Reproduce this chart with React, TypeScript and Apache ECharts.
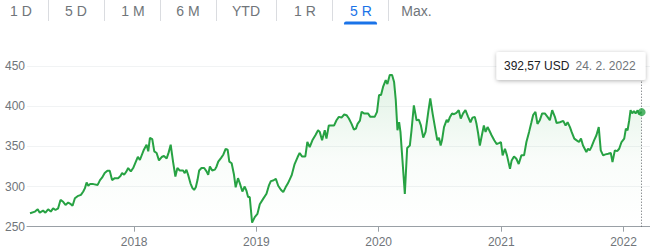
import React, { useEffect, useRef } from "react";
import * as echarts from "echarts";

const tabLabels = ["1 D", "5 D", "1 M", "6 M", "YTD", "1 R", "5 R", "Max."];
const activeTab = "5 R";
const yTicks = [250, 300, 350, 400, 450];
const yearTicks = ["2018-01-01", "2019-01-01", "2020-01-01", "2021-01-01", "2022-01-01"];
const xRange = ["2017-02-15", "2022-03-21"];

const dates2017 = ["2017-02-24","2017-03-11","2017-03-19","2017-03-25","2017-04-04","2017-04-11","2017-04-19","2017-04-27","2017-05-04","2017-05-11","2017-05-19","2017-05-26","2017-06-03","2017-06-10","2017-06-18","2017-06-26","2017-07-01","2017-07-08","2017-07-16","2017-07-26","2017-08-02","2017-08-07","2017-08-12","2017-08-17","2017-08-22","2017-09-01","2017-09-14","2017-09-21","2017-09-27","2017-10-05","2017-10-13","2017-10-20","2017-10-27","2017-11-04","2017-11-14","2017-11-21","2017-11-26","2017-12-02","2017-12-09","2017-12-14","2017-12-22","2017-12-29"];
const values2017 = [266.7,268.8,271.7,267.5,270,267.5,271.7,268.8,272.9,270.8,272.9,283.3,281,277,280,278,276,285.4,288,289.6,293.8,298,305,301,303,303,302,308,311,316.7,319.6,319.6,308,310.4,310.4,313,316.7,314.6,318.8,323,318.8,323];

const dates2018 = ["2018-01-06","2018-01-12","2018-01-18","2018-01-30","2018-02-07","2018-02-12","2018-02-17","2018-02-24","2018-03-02","2018-03-09","2018-03-16","2018-03-24","2018-03-31","2018-04-08","2018-04-14","2018-04-20","2018-04-27","2018-05-04","2018-05-10","2018-05-17","2018-05-27","2018-06-01","2018-06-06","2018-06-11","2018-06-18","2018-06-24","2018-06-29","2018-07-04","2018-07-09","2018-07-14","2018-07-21","2018-07-29","2018-08-05","2018-08-10","2018-08-15","2018-08-22","2018-08-30","2018-09-04","2018-09-09","2018-09-17","2018-09-24","2018-10-01","2018-10-07","2018-10-12","2018-10-19","2018-10-26","2018-10-31","2018-11-07","2018-11-14","2018-11-20","2018-11-27","2018-12-02","2018-12-07","2018-12-12","2018-12-19","2018-12-27"];
const values2018 = [331,337,333,345.8,352,343.8,360.4,359,343.8,341.7,332.5,336.7,338,335,342.5,352,331,312.5,323,320,320,316.7,320.8,314.6,304,298,295.8,299,308,320,323,323,318.8,314.6,325,320,321,325,331,335.4,339.6,346.7,345.8,331,329,314.6,299,310.4,302,293.8,300,295,287,287,255,262];

const dates2019 = ["2019-01-04","2019-01-11","2019-01-21","2019-01-31","2019-02-07","2019-02-13","2019-02-20","2019-02-28","2019-03-07","2019-03-15","2019-03-22","2019-03-29","2019-04-05","2019-04-16","2019-04-25","2019-05-04","2019-05-10","2019-05-17","2019-05-27","2019-06-02","2019-06-09","2019-06-17","2019-06-26","2019-07-04","2019-07-09","2019-07-16","2019-07-24","2019-07-29","2019-08-05","2019-08-15","2019-08-21","2019-08-28","2019-09-04","2019-09-12","2019-09-20","2019-09-27","2019-10-04","2019-10-12","2019-10-19","2019-10-25","2019-10-30","2019-11-06","2019-11-11","2019-11-18","2019-11-21","2019-11-30","2019-12-07","2019-12-20","2019-12-27"];
const values2019 = [266,278,284.6,291,301,306.7,307.5,309.6,301,296,293,299,304,313.8,328,336.7,341.7,337.5,337.5,355.4,349,357.5,363.8,370,368,357.5,370,359.6,376,376,376,382.5,386.7,385.8,389.6,388.8,384.6,378,370.8,372,378,382,393,391,391,391,386.7,386.7,393];

const dates2020 = ["2020-01-02","2020-01-08","2020-01-14","2020-01-22","2020-01-27","2020-02-03","2020-02-10","2020-02-16","2020-02-21","2020-02-26","2020-03-02","2020-03-06","2020-03-12","2020-03-19","2020-03-26","2020-04-03","2020-04-08","2020-04-15","2020-04-23","2020-04-30","2020-05-06","2020-05-13","2020-05-20","2020-05-28","2020-06-03","2020-06-10","2020-06-17","2020-06-24","2020-06-29","2020-07-04","2020-07-08","2020-07-14","2020-07-22","2020-07-26","2020-07-31","2020-08-07","2020-08-13","2020-08-20","2020-08-27","2020-09-02","2020-09-09","2020-09-16","2020-09-24","2020-10-01","2020-10-07","2020-10-14","2020-10-19","2020-10-24","2020-10-29","2020-11-03","2020-11-10","2020-11-15","2020-11-21","2020-11-26","2020-12-03","2020-12-11","2020-12-18","2020-12-25","2020-12-31"];
const values2020 = [413.8,413.8,424,432.5,427.5,438.8,438.8,430,407.5,370,380,368,332.5,290.8,348,351,370,401,382.5,383,376,360.8,368,393,409.6,390.8,374,357.5,360.8,351,357.5,374,383,380,385.8,391,390,391.7,395,384.6,391,395,386.7,380,385.8,386.7,378,366,351,361.7,376,368,374,370,363.8,357.5,353,354,355.4];

const dates2021 = ["2021-01-05","2021-01-12","2021-01-18","2021-01-27","2021-02-01","2021-02-08","2021-02-15","2021-02-22","2021-03-02","2021-03-10","2021-03-17","2021-03-25","2021-04-01","2021-04-06","2021-04-13","2021-04-19","2021-04-26","2021-05-03","2021-05-11","2021-05-19","2021-05-26","2021-06-02","2021-06-10","2021-06-15","2021-06-25","2021-07-05","2021-07-12","2021-07-18","2021-07-25","2021-07-30","2021-08-07","2021-08-14","2021-08-21","2021-08-27","2021-09-02","2021-09-07","2021-09-12","2021-09-17","2021-09-22","2021-09-27","2021-10-05","2021-10-12","2021-10-19","2021-10-25","2021-11-01","2021-11-08","2021-11-16","2021-11-24","2021-11-29","2021-12-06","2021-12-13","2021-12-19","2021-12-26"];
const values2021 = [338.8,347,338.8,322,332.5,337.5,334.6,328,338.8,338.8,355.4,368,380,388.8,393,378,382.5,391,391,386.7,382.5,395,386.7,379,380,381.7,376,380,374,368,359.6,357.5,355.4,359.6,351,347,343,347,345,349,357.5,363.8,374,345,338.8,340,340.8,341.7,330.4,345,344,347,355.4];

const dates2022 = ["2022-01-03","2022-01-08","2022-01-13","2022-01-18","2022-01-22","2022-01-27","2022-02-01","2022-02-06","2022-02-12","2022-02-16","2022-02-24"];
const values2022 = [359.6,372,370,382.5,395,391,394,391,395,390,392.57];

const dates = [...dates2017, ...dates2018, ...dates2019, ...dates2020, ...dates2021, ...dates2022];
const values = [...values2017, ...values2018, ...values2019, ...values2020, ...values2021, ...values2022];

const priceLabel = "392,57 USD";
const dateLabel = "24. 2. 2022";

const GREEN = "#27a243";
const GREY = "#70757a";
const FONT = "Arial, 'Liberation Sans', sans-serif";

const tabCenters = [21, 76, 133, 188, 246, 305, 361, 416.5];
const sepX = [48.5, 104.5, 160.5, 216.5, 276.5, 332.5, 388.5];

const toTs = (s: string) => {
  const [y, m, d] = s.split("-").map(Number);
  return Date.UTC(y, m - 1, d);
};

export default function App() {
  const ref = useRef<HTMLDivElement>(null);
  useEffect(() => {
    if (!ref.current) return;
    const chart = echarts.init(ref.current, null, { renderer: "svg" });
    const seriesData = dates.map((d, i) => [toTs(d), values[i]]);
    const last = seriesData[seriesData.length - 1];
    const tickTs = yearTicks.map(toTs);
    const graphics: any[] = [];
    tabLabels.forEach((t, i) => {
      graphics.push({
        type: "text",
        x: tabCenters[i],
        y: 11,
        style: {
          text: t,
          fill: t === activeTab ? "#1a73e8" : GREY,
          font: `14px ${FONT}`,
          textAlign: "center",
          textVerticalAlign: "middle",
        },
      });
    });
    sepX.forEach((x) => {
      graphics.push({
        type: "line",
        shape: { x1: x, y1: 0, x2: x, y2: 21 },
        style: { stroke: "#dadce0", lineWidth: 1 },
      });
    });
    graphics.push({
      type: "rect",
      shape: { x: 344, y: 21.5, width: 33, height: 3, r: [2, 2, 0, 0] },
      style: { fill: "#1a73e8" },
    });
    graphics.push({
      type: "rect",
      z: 100,
      shape: { x: 496.5, y: 52, width: 149, height: 28, r: 2 },
      style: {
        fill: "#fff",
        shadowBlur: 4,
        shadowColor: "rgba(0,0,0,0.3)",
        shadowOffsetY: 1,
      },
    });
    graphics.push({
      type: "text",
      z: 101,
      x: 504,
      y: 66,
      style: { text: priceLabel, fill: "#202124", font: `12px ${FONT}`, textVerticalAlign: "middle" },
    });
    graphics.push({
      type: "text",
      z: 101,
      x: 575.5,
      y: 66,
      style: { text: dateLabel, fill: GREY, font: `12px ${FONT}`, textVerticalAlign: "middle" },
    });

    chart.setOption({
      animation: false,
      grid: { left: 27, right: 0, top: 66, bottom: 24.3 },
      xAxis: {
        type: "value",
        min: toTs(xRange[0]),
        max: toTs(xRange[1]),
        axisLine: { show: true, lineStyle: { color: "#9aa0a6", width: 1 } },
        axisTick: {
          show: true,
          length: 5,
          lineStyle: { color: "#9aa0a6" },
          customValues: tickTs,
        },
        axisLabel: {
          color: GREY,
          fontSize: 12,
          fontFamily: FONT,
          margin: 9,
          customValues: tickTs,
          formatter: (v: number) => String(new Date(v).getUTCFullYear()),
        },
        splitLine: { show: false },
      },
      yAxis: {
        type: "value",
        min: yTicks[0],
        max: yTicks[yTicks.length - 1],
        interval: 50,
        axisLine: { show: false },
        axisTick: { show: false },
        axisLabel: { color: GREY, fontSize: 12, fontFamily: FONT, margin: 2 },
        splitLine: { lineStyle: { color: "#f1f3f4", width: 1 } },
      },
      series: [
        {
          type: "line",
          data: seriesData,
          showSymbol: false,
          symbol: "none",
          lineStyle: { color: GREEN, width: 2 },
          areaStyle: {
            color: new echarts.graphic.LinearGradient(0, 0, 0, 1, [
              { offset: 0, color: "rgba(39,162,67,0.2)" },
              { offset: 0.55, color: "rgba(39,162,67,0.04)" },
              { offset: 1, color: "rgba(39,162,67,0)" },
            ]),
          },
          markLine: {
            silent: true,
            symbol: ["none", "none"],
            label: { show: false },
            lineStyle: { type: [1, 2], color: "#5f6368", width: 1 },
            data: [{ xAxis: last[0] }],
          },
        },
        {
          type: "scatter",
          data: [last],
          symbolSize: 8,
          itemStyle: { color: GREEN },
          z: 5,
        },
      ],
      graphic: graphics,
    });
    return () => chart.dispose();
  }, []);
  return (
    <div
      ref={ref}
      style={{ position: "fixed", left: 0, top: 0, width: 650, height: 251, background: "#fff" }}
    />
  );
}
